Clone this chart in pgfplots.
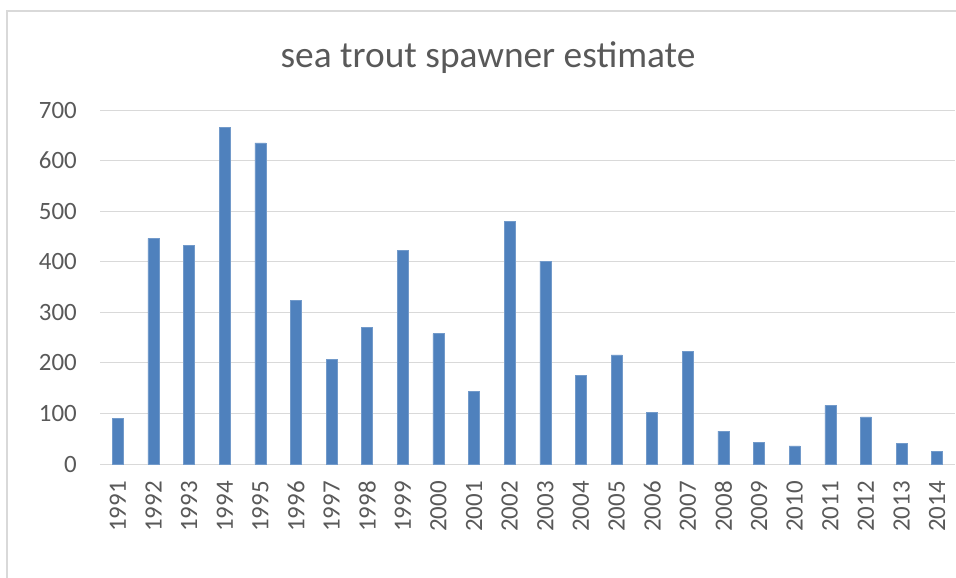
\documentclass[border=0pt]{standalone}
\usepackage{pgfplots}
\pgfplotsset{compat=1.18}
\usepackage{fontspec}
\setmainfont{Carlito}
\definecolor{barblue}{HTML}{4F81BD}
\definecolor{txtgray}{HTML}{595959}
\definecolor{gridgray}{HTML}{D9D9D9}
\begin{document}
\begin{tikzpicture}
\useasboundingbox (0bp,0bp) rectangle (956bp,-578bp);
\draw[gridgray, line width=1.5bp] (7bp,-578bp) -- (7bp,-11bp) -- (956bp,-11bp);
\node[anchor=base, text=txtgray, font=\fontsize{37.5}{44}\selectfont, inner sep=0pt] at (488bp,-67bp) {sea trout spawner estimate};
\begin{axis}[
  at={(100bp,-464bp)}, anchor=south west,
  scale only axis, width=855bp, height=354bp,
  xmin=-0.5, xmax=23.5, ymin=0, ymax=700,
  ybar, bar width=11bp,
  axis x line=bottom, axis y line=left,
  x axis line style={gridgray, line width=1bp, -},
  y axis line style={draw=none},
  ytick={0,100,...,700},
  xtick={0,...,23},
  xticklabels={1991,1992,1993,1994,1995,1996,1997,1998,1999,2000,2001,2002,2003,2004,2005,2006,2007,2008,2009,2010,2011,2012,2013,2014},
  major tick length=0pt,
  ymajorgrids, grid style={gridgray, line width=1bp},
  tick label style={text=txtgray, font=\fontsize{25}{30}\selectfont},
  /pgf/number format/assume math mode=true,
  yticklabel style={anchor=east, inner sep=0pt, xshift=-23bp},
  xticklabel style={rotate=90, anchor=east, inner sep=0pt, xshift=-17bp},
  clip=false,
]
\addplot[fill=barblue, draw=barblue!80!white, line width=0.5bp] coordinates {
(0,90) (1,446) (2,433) (3,665) (4,635) (5,324) (6,207) (7,270)
(8,422) (9,258) (10,144) (11,480) (12,401) (13,175) (14,216) (15,102)
(16,223) (17,65) (18,43) (19,36) (20,116) (21,93) (22,41) (23,25)
};
\end{axis}
\end{tikzpicture}
\end{document}
